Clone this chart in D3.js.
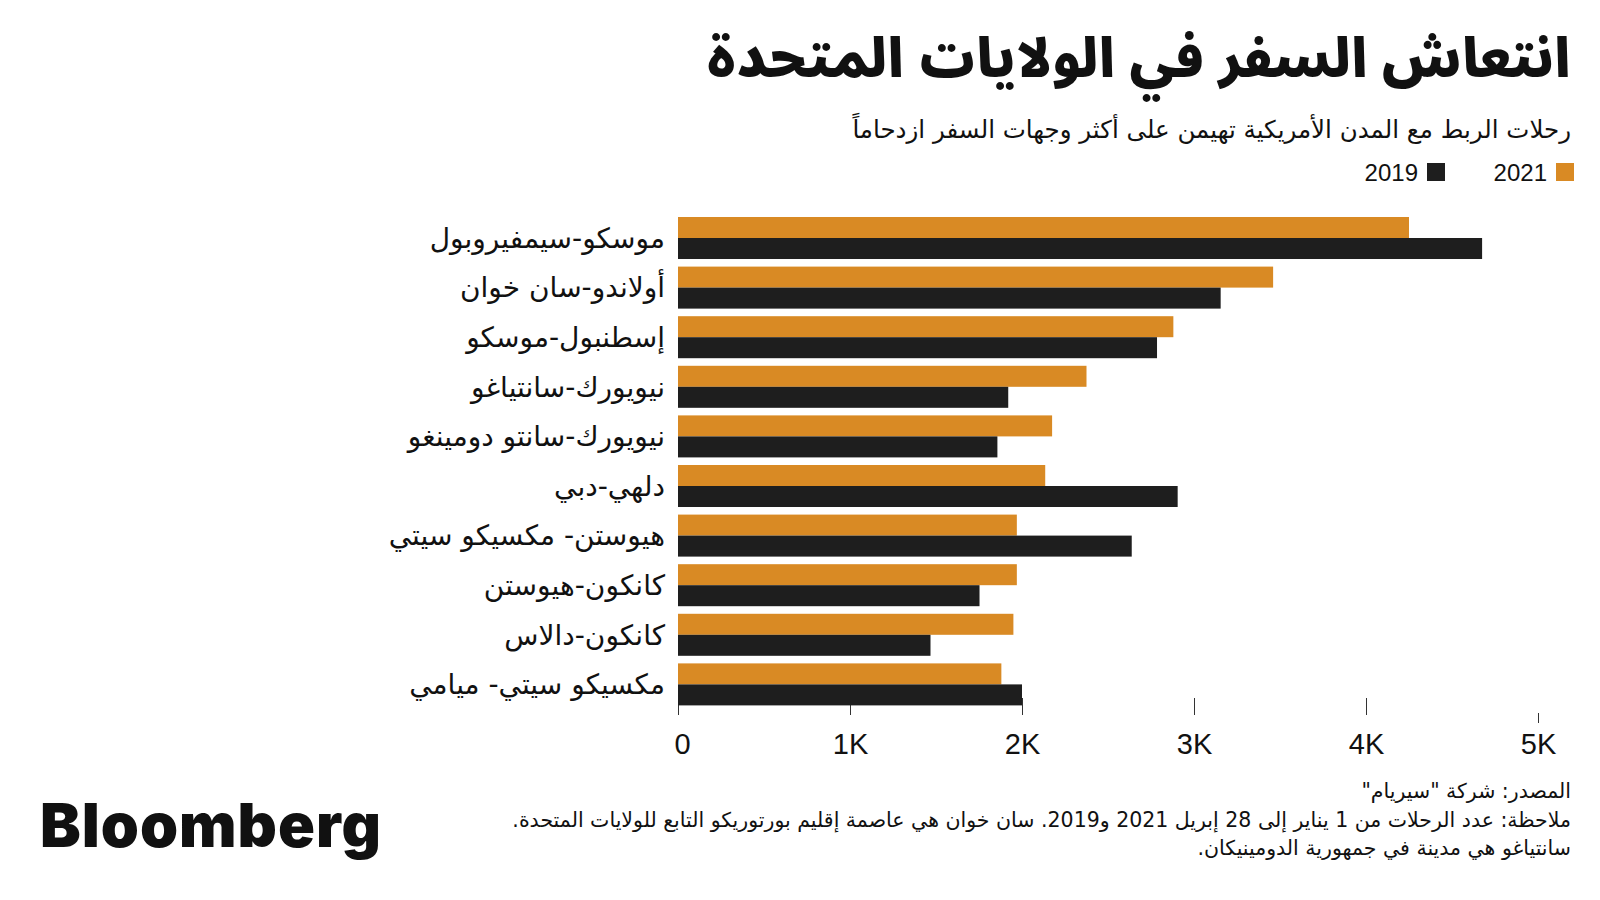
<!DOCTYPE html>
<html><head><meta charset="utf-8">
<script src="https://cdn.jsdelivr.net/npm/d3@7/dist/d3.min.js"></script>
<style>
html,body{margin:0;padding:0;background:#fff;}
svg{display:block;}
.ar{font-family:"Noto Sans Arabic","Noto Naskh Arabic","DejaVu Sans",sans-serif;direction:rtl;unicode-bidi:embed;}
.ar2{font-family:"DejaVu Sans",sans-serif;direction:rtl;unicode-bidi:embed;}
</style></head>
<body>
<svg id="chart" width="1600" height="900"></svg>
<script>
const title = "انتعاش السفر في الولايات المتحدة";
const subtitle = "رحلات الربط مع المدن الأمريكية تهيمن على أكثر وجهات السفر ازدحاماً";
const categories = [
  "موسكو-سيمفيروبول",
  "أولاندو-سان خوان",
  "إسطنبول-موسكو",
  "نيويورك-سانتياغو",
  "نيويورك-سانتو دومينغو",
  "دلهي-دبي",
  "هيوستن- مكسيكو سيتي",
  "كانكون-هيوستن",
  "كانكون-دالاس",
  "مكسيكو سيتي- ميامي"
];
const series = ["2021", "2019"];
const values2021 = [4250, 3460, 2880, 2375, 2175, 2135, 1970, 1970, 1950, 1880];
const values2019 = [4675, 3155, 2785, 1920, 1857, 2905, 2638, 1753, 1468, 2000];
const tickValues = [0, 1000, 2000, 3000, 4000, 5000];
const tickLabels = ["0", "1K", "2K", "3K", "4K", "5K"];
const footnotes = [
  "المصدر: شركة \"سيريام\"",
  "ملاحظة: عدد الرحلات من 1 يناير إلى 28 إبريل 2021 و2019. سان خوان هي عاصمة إقليم بورتوريكو التابع للولايات المتحدة.",
  "سانتياغو هي مدينة في جمهورية الدومينيكان."
];

const colors = {"2021": "#d98a24", "2019": "#1e1e1e"};
const svg = d3.select("#chart");

const x = d3.scaleLinear().domain([0, 5000]).range([678, 1538]);
const y = d3.scaleBand().domain(categories).range([217, 705.4]).paddingInner(0.153).paddingOuter(0);
const ySub = d3.scaleBand().domain(series).range([0, y.bandwidth()]);

// title / subtitle
svg.append("text").attr("class","ar").attr("x",1571).attr("y",77)
  .attr("text-anchor","start").attr("font-size",54).attr("font-weight",900)
  .attr("fill","#111").text(title);
svg.append("text").attr("class","ar2").attr("x",1571).attr("y",138)
  .attr("text-anchor","start").attr("font-size",24.5)
  .attr("fill","#111").text(subtitle);

// legend
const legend = [
  {k:"2021", sq:1556, tx:1547},
  {k:"2019", sq:1427, tx:1418}
];
legend.forEach(l => {
  svg.append("rect").attr("x",l.sq).attr("y",163).attr("width",18).attr("height",18).attr("fill",colors[l.k]);
  svg.append("text").attr("x",l.tx).attr("y",181).attr("text-anchor","end")
    .attr("font-family","'Liberation Sans',Arial,sans-serif").attr("font-size",24)
    .attr("fill","#111").text(l.k);
});

// axis
const axis = d3.axisBottom(x).tickValues(tickValues)
  .tickFormat((d,i) => tickLabels[i]).tickSize(17).tickPadding(0);
const ag = svg.append("g").attr("transform","translate(0,698)").call(axis);
ag.select(".domain").remove();
ag.selectAll(".tick line").attr("stroke","#333").attr("stroke-width",1);
ag.selectAll(".tick").filter(d => d === 5000).select("line").attr("y1",15).attr("y2",25);
ag.selectAll(".tick text")
  .attr("y",56).attr("dy",0)
  .attr("font-family","'Liberation Sans Narrow','Liberation Sans',sans-serif")
  .attr("font-size",29).attr("fill","#111");
ag.selectAll(".tick").filter(d => d === 0).select("text").attr("x",4);

// bars
const rows = categories.map((c,i) => ({cat:c, "2021":values2021[i], "2019":values2019[i]}));
const g = svg.append("g");
const grp = g.selectAll("g.row").data(rows).join("g").attr("class","row")
  .attr("transform", d => `translate(0,${y(d.cat)})`);
grp.selectAll("rect").data(d => series.map(s => ({s, v:d[s]}))).join("rect")
  .attr("x", x(0)).attr("y", d => ySub(d.s))
  .attr("width", d => x(d.v) - x(0)).attr("height", ySub.bandwidth())
  .attr("fill", d => colors[d.s]);

// category labels
svg.append("g").selectAll("text").data(categories).join("text")
  .attr("class","ar2").attr("x",665).attr("y", d => y(d) + y.bandwidth()/2)
  .attr("dy","0.35em").attr("text-anchor","start").attr("font-size",28)
  .attr("fill","#111").text(d => d);

// footer
svg.append("text").attr("x",40).attr("y",847)
  .attr("font-family","Inter,'Liberation Sans',sans-serif").attr("font-weight",900)
  .attr("font-size",61).attr("letter-spacing",1).attr("fill","#111").text("Bloomberg");
svg.append("g").selectAll("text").data(footnotes).join("text")
  .attr("class","ar2").attr("x",1571).attr("y",(d,i) => 798 + i*28.5)
  .attr("text-anchor","start").attr("font-size",20.5).attr("fill","#111").text(d => d);
</script>
</body></html>
